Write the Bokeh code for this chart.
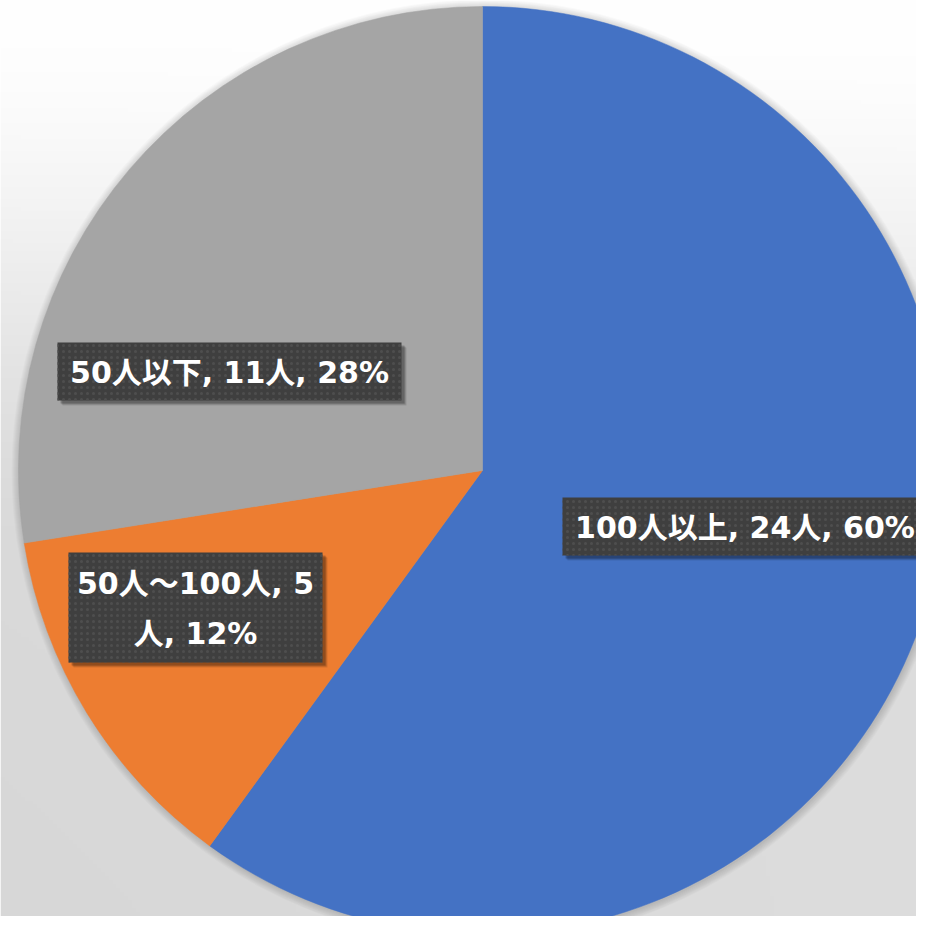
import numpy as np
from bokeh.plotting import figure
from bokeh.models import Range1d, ColumnDataSource
from bokeh.core.properties import value
from bokeh.embed import file_html
from bokeh.resources import INLINE

# ---- data ----
categories = ["100人以上", "50人～100人", "50人以下"]
counts = [24, 5, 11]
colors = ["#4472C4", "#ED7D31", "#A5A5A5"]
wrap_label = [False, True, False]

# ---- layout (screen pixel coordinates) ----
SCREEN = 932
W = 916
CX, CY, R = 482, 470, 464
label_boxes = [  # center x, center y (screen), width, height
    (744.5, 526, 365, 58),
    (195, 607, 254, 110),
    (229, 371, 344, 58),
]

def sy(v):
    return W - v

p = figure(width=W, height=W, x_range=Range1d(0, W), y_range=Range1d(0, W),
           output_backend="svg", toolbar_location=None, min_border=0)
p.axis.visible = False
p.grid.visible = False
p.outline_line_color = None
p.background_fill_color = "white"
p.border_fill_color = "white"

# background gradient
n = 230
ii = np.arange(n)
data_y = (ii + 0.5) * W / n
screen_y = W - data_y
screen_x = (ii + 0.5) * W / n
XS, YS = np.meshgrid(screen_x, screen_y)
t = np.clip(YS / 560.0, 0, 1)
t = t * t * (3 - 2 * t)
v = 255 - 34 * t - 6 * (1 - XS / SCREEN) * np.clip(YS / SCREEN, 0, 1)
v = np.clip(v, 0, 255).astype(np.uint32)
img = (255 << 24) | (v << 16) | (v << 8) | v
p.image_rgba(image=[img.astype(np.uint32)], x=0, y=0, dw=W, dh=W)

# soft shadow around the pie
for k in range(1, 9):
    p.circle(x=CX + 1, y=sy(CY + 1), radius=R + k, fill_color="black", fill_alpha=0.018, line_color=None)

# wedges
total = sum(counts)
cum = np.cumsum([0] + counts)
starts = [np.pi / 2 - 2 * np.pi * cum[i] / total for i in range(len(counts))]
ends = [np.pi / 2 - 2 * np.pi * cum[i + 1] / total for i in range(len(counts))]
src = ColumnDataSource(dict(start=starts, end=ends, color=colors))
p.wedge(x=CX, y=sy(CY), radius=R, start_angle="start", end_angle="end", direction="clock",
        fill_color="color", line_color="color", line_width=0.5, source=src)

# labels
pcts = [int(round(c / total * 100)) for c in counts]
texts = []
for cat, c, pc, wr in zip(categories, counts, pcts, wrap_label):
    texts.append(f"{cat}, {c}" + ("\n" if wr else "") + f"人, {pc}%")

bx = [b[0] for b in label_boxes]
by = [sy(b[1]) for b in label_boxes]
bw = [b[2] for b in label_boxes]
bh = [b[3] for b in label_boxes]

for off, a in [(5, 0.10), (4, 0.15), (3, 0.2)]:
    p.rect(x=[x + off for x in bx], y=[y - off for y in by], width=bw, height=bh,
           fill_color="black", fill_alpha=a, line_color=None)
p.rect(x=bx, y=by, width=bw, height=bh, fill_color="#3f3f3f", line_color=None,
       hatch_pattern=".", hatch_color="#4e4e4e", hatch_scale=6, hatch_weight=1)
p.text(x=bx, y=[y - 1 for y in by], text=texts, text_align="center", text_baseline="middle",
       text_color="white", text_font=value("DejaVu Sans, Noto Sans CJK JP"), text_font_style="bold",
       text_font_size="30px", text_line_height=1.45)

open("out.html", "w").write(file_html(p, INLINE))
